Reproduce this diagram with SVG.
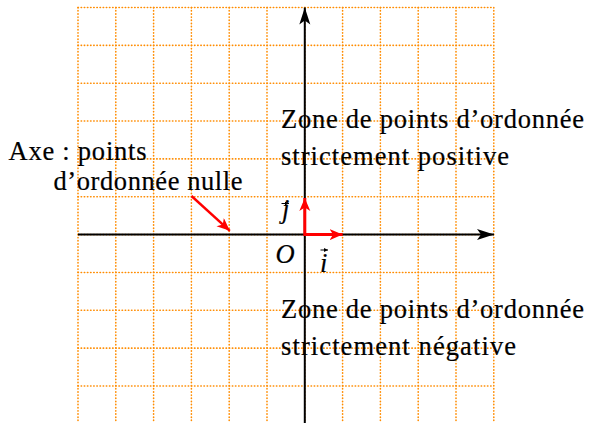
<svg xmlns="http://www.w3.org/2000/svg" width="590" height="423" viewBox="0 0 590 423">
<style>
.grid line{stroke:#ff8c00;stroke-width:1.6;stroke-dasharray:0.4 2.75;stroke-linecap:round;fill:none}
.axis{stroke:#000;stroke-width:2;fill:none}
.vec{stroke:#ff0000;stroke-width:3;fill:none}
.ptr{stroke:#ff0000;stroke-width:2.4;fill:none}
text{font-family:"Liberation Serif","DejaVu Serif",serif;font-size:26.5px;fill:#000;stroke:#000;stroke-width:0.2}
.m{font-style:italic}
.va{stroke:#000;stroke-width:1;fill:none}
</style>
<defs>
<marker id="ahk" markerUnits="userSpaceOnUse" markerWidth="18" markerHeight="12" refX="17" refY="5.5" orient="auto" viewBox="0 0 18 12">
<path d="M0,0 L17,5.5 L0,11 L4,5.5 z" fill="#000"/>
</marker>
<marker id="ahr" markerUnits="userSpaceOnUse" markerWidth="14" markerHeight="12" refX="13" refY="5.5" orient="auto-start-reverse" viewBox="0 0 14 12">
<path d="M0,0 L13,5.5 L0,11 L3.5,5.5 z" fill="#ff0000"/>
</marker>
<marker id="ahs" markerUnits="userSpaceOnUse" markerWidth="5" markerHeight="5" refX="4" refY="2" orient="auto" viewBox="0 0 5 5">
<path d="M0,0 L4,2 L0,4 z" fill="#000"/>
</marker>
</defs>
<g id="grid" class="grid">
<line x1="78" y1="7.5" x2="78" y2="423"/>
<line x1="115.8" y1="7.5" x2="115.8" y2="423"/>
<line x1="153.6" y1="7.5" x2="153.6" y2="423"/>
<line x1="191.4" y1="7.5" x2="191.4" y2="423"/>
<line x1="229.2" y1="7.5" x2="229.2" y2="423"/>
<line x1="267" y1="7.5" x2="267" y2="423"/>
<line x1="304.8" y1="7.5" x2="304.8" y2="423"/>
<line x1="342.6" y1="7.5" x2="342.6" y2="423"/>
<line x1="380.4" y1="7.5" x2="380.4" y2="423"/>
<line x1="418.2" y1="7.5" x2="418.2" y2="423"/>
<line x1="456" y1="7.5" x2="456" y2="423"/>
<line x1="493.8" y1="7.5" x2="493.8" y2="423"/>
<line x1="78" y1="7.5" x2="493.8" y2="7.5"/>
<line x1="78" y1="45.35" x2="493.8" y2="45.35"/>
<line x1="78" y1="83.2" x2="493.8" y2="83.2"/>
<line x1="78" y1="121.05" x2="493.8" y2="121.05"/>
<line x1="78" y1="158.9" x2="493.8" y2="158.9"/>
<line x1="78" y1="196.75" x2="493.8" y2="196.75"/>
<line x1="78" y1="234.6" x2="493.8" y2="234.6"/>
<line x1="78" y1="272.45" x2="493.8" y2="272.45"/>
<line x1="78" y1="310.3" x2="493.8" y2="310.3"/>
<line x1="78" y1="348.15" x2="493.8" y2="348.15"/>
<line x1="78" y1="386" x2="493.8" y2="386"/>
</g>
<g id="zone-pos">
<text x="281" y="127.5" textLength="303" lengthAdjust="spacing">Zone de points d’ordonnée</text>
<text x="281" y="164.5" textLength="228" lengthAdjust="spacing">strictement positive</text>
</g>
<g id="zone-neg">
<text x="281" y="317.5" textLength="303" lengthAdjust="spacing">Zone de points d’ordonnée</text>
<text x="281" y="354.5" textLength="235" lengthAdjust="spacing">strictement négative</text>
</g>
<g id="axe-label">
<text x="8.5" y="160" textLength="138" lengthAdjust="spacing">Axe : points</text>
<text x="53.5" y="190" textLength="189" lengthAdjust="spacing">d’ordonnée nulle</text>
</g>
<g id="connectors">
<line class="axis" x1="78" y1="234.6" x2="494" y2="234.6" marker-end="url(#ahk)"/>
<line class="axis" x1="304.8" y1="423" x2="304.8" y2="7.5" marker-end="url(#ahk)"/>
<path class="vec" d="M304.8,198 L304.8,234.6 L342.6,234.6" marker-start="url(#ahr)" marker-end="url(#ahr)"/>
<line class="ptr" x1="191.5" y1="196" x2="229.8" y2="230.8" marker-end="url(#ahr)"/>
</g>
<g id="origin">
<text class="m" x="275.5" y="262.5">O</text>
</g>
<g id="vec-i">
<text class="m" x="320" y="271.5">i</text>
<line class="va" x1="320.5" y1="250" x2="328" y2="250" marker-end="url(#ahs)"/>
</g>
<g id="vec-j">
<text class="m" x="282" y="218">j</text>
<line class="va" x1="281.5" y1="203.5" x2="289" y2="203.5" marker-end="url(#ahs)"/>
</g>
</svg>
